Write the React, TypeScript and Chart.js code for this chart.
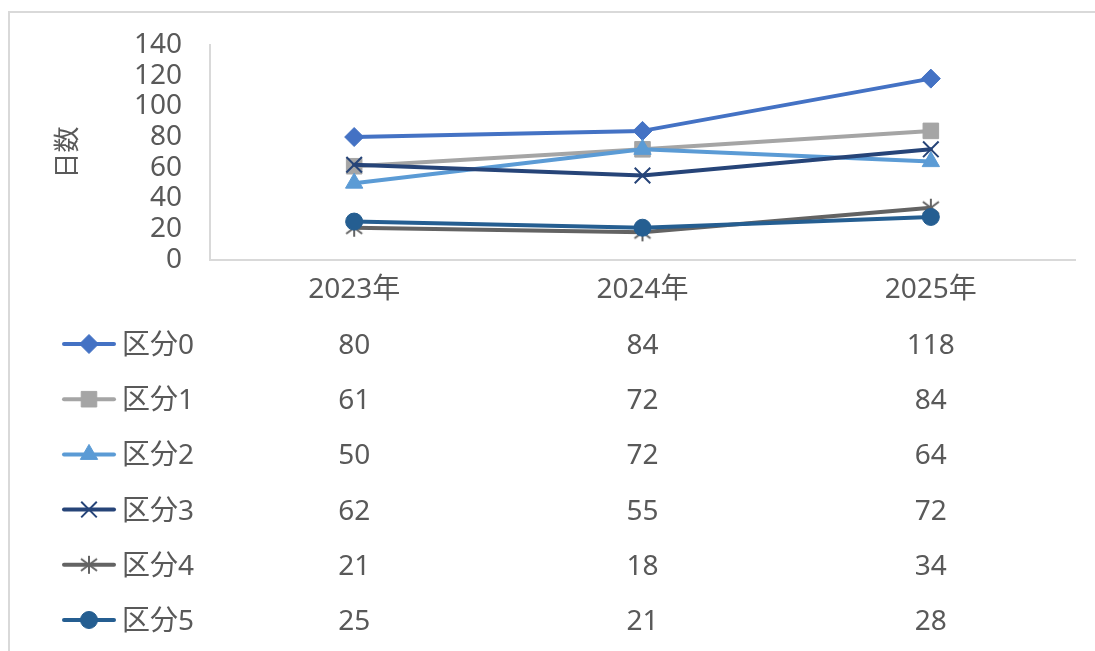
import React, { useEffect, useRef } from "react";
import { Chart, registerables } from "chart.js";
import { drawPoint } from "chart.js/helpers";

Chart.register(...registerables);

const categories = ["2023年", "2024年", "2025年"];
const seriesNames = ["区分0", "区分1", "区分2", "区分3", "区分4", "区分5"];
const series0 = [80, 84, 118];
const series1 = [61, 72, 84];
const series2 = [50, 72, 64];
const series3 = [62, 55, 72];
const series4 = [21, 18, 34];
const series5 = [25, 21, 28];
const seriesValues = [series0, series1, series2, series3, series4, series5];
const yTicks = [0, 20, 40, 60, 80, 100, 120, 140];
const axisTitle = "日数";

const colors = ["#4472C4", "#A5A5A5", "#5B9BD5", "#264478", "#636363", "#255E91"];
const FONT = "'Noto Sans', 'Noto Sans CJK JP', sans-serif";
const TEXT = "#595959";
const GRID = "#d9d9d9";

function makeStar(color: string): HTMLCanvasElement {
  const c = document.createElement("canvas");
  c.width = 22;
  c.height = 22;
  const g = c.getContext("2d")!;
  g.strokeStyle = color;
  g.lineWidth = 2;
  g.lineCap = "butt";
  g.beginPath();
  g.moveTo(11, 2);
  g.lineTo(11, 20);
  g.moveTo(3, 5);
  g.lineTo(19, 17);
  g.moveTo(19, 5);
  g.lineTo(3, 17);
  g.stroke();
  return c;
}

export default function App() {
  const ref = useRef<HTMLCanvasElement | null>(null);
  useEffect(() => {
    const canvas = ref.current!;
    const star = makeStar(colors[4]);
    const styles: any[] = ["rectRot", "rect", "triangle", "crossRot", star, "circle"];
    const radii = [9.5, 11, 10, 11, 11, 8.5];
    const borderWidths = [1, 1, 1, 2, 2, 1];

    const datasets = seriesValues.map((vals, i) => ({
      label: seriesNames[i],
      data: vals,
      borderColor: colors[i],
      backgroundColor: colors[i],
      pointBackgroundColor: colors[i],
      pointBorderColor: colors[i],
      pointStyle: styles[i],
      pointRadius: radii[i],
      pointBorderWidth: borderWidths[i],
      borderWidth: 4,
      borderCapStyle: "round" as const,
      borderJoinStyle: "round" as const,
      tension: 0,
      order: 5 - i,
    }));

    const frame = {
      id: "frame",
      beforeDraw(chart: any) {
        const ctx = chart.ctx;
        ctx.save();
        ctx.fillStyle = "#ffffff";
        ctx.fillRect(0, 0, chart.width, chart.height);
        ctx.strokeStyle = GRID;
        ctx.lineWidth = 2;
        ctx.beginPath();
        ctx.moveTo(9, 651);
        ctx.lineTo(9, 12);
        ctx.lineTo(1095, 12);
        ctx.stroke();
        ctx.restore();
      },
    };

    const table = {
      id: "dataTable",
      afterDraw(chart: any) {
        const ctx = chart.ctx;
        const xs = chart.scales.x;
        ctx.save();
        ctx.font = `28px ${FONT}`;
        ctx.textBaseline = "middle";
        seriesValues.forEach((vals, i) => {
          const y = 344 + i * 55.2;
          ctx.strokeStyle = colors[i];
          ctx.fillStyle = colors[i];
          ctx.lineWidth = 4;
          ctx.lineCap = "round";
          ctx.beginPath();
          ctx.moveTo(64, y);
          ctx.lineTo(114, y);
          ctx.stroke();
          ctx.lineWidth = borderWidths[i];
          ctx.lineCap = "butt";
          drawPoint(ctx, { pointStyle: styles[i], rotation: 0, radius: radii[i], borderWidth: borderWidths[i] } as any, 89, y);
          ctx.fillStyle = TEXT;
          ctx.textAlign = "left";
          ctx.fillText(seriesNames[i], 122, y + 2);
          ctx.textAlign = "center";
          vals.forEach((v, j) => {
            ctx.fillText(String(v), xs.getPixelForValue(j), y + 2);
          });
        });
        ctx.restore();
      },
    };

    const chart = new Chart(canvas, {
      type: "line",
      data: { labels: categories, datasets },
      options: {
        responsive: false,
        animation: false,
        devicePixelRatio: 1,
        layout: { padding: { left: 20, right: 20, top: 43, bottom: 331 } },
        plugins: { legend: { display: false }, tooltip: { enabled: false } },
        scales: {
          x: {
            type: "category",
            offset: true,
            grid: { display: false, drawTicks: false, offset: true },
            border: { display: true, color: GRID, width: 2 },
            ticks: { color: TEXT, font: { family: FONT, size: 28 }, padding: 13, maxRotation: 0, autoSkip: false },
            afterFit: (s: any) => {
              s.height = 60;
            },
          },
          y: {
            min: 0,
            max: 140,
            afterBuildTicks: (s: any) => {
              s.ticks = yTicks.map((v) => ({ value: v }));
            },
            grid: { display: false, drawTicks: false },
            border: { display: true, color: GRID, width: 2 },
            ticks: { color: TEXT, font: { family: FONT, size: 28 }, padding: 28, autoSkip: false },
            title: {
              display: true,
              text: axisTitle,
              color: TEXT,
              font: { family: FONT, size: 26 },
              padding: { top: 33, bottom: 0 },
            },
            afterFit: (s: any) => {
              s.width = 190;
            },
          },
        },
      },
      plugins: [frame, table],
    });
    return () => chart.destroy();
  }, []);

  return (
    <div style={{ position: "fixed", left: 0, top: 0, width: 1095, height: 651, background: "#fff" }}>
      <canvas ref={ref} width={1095} height={651} style={{ display: "block", width: 1095, height: 651 }} />
    </div>
  );
}
